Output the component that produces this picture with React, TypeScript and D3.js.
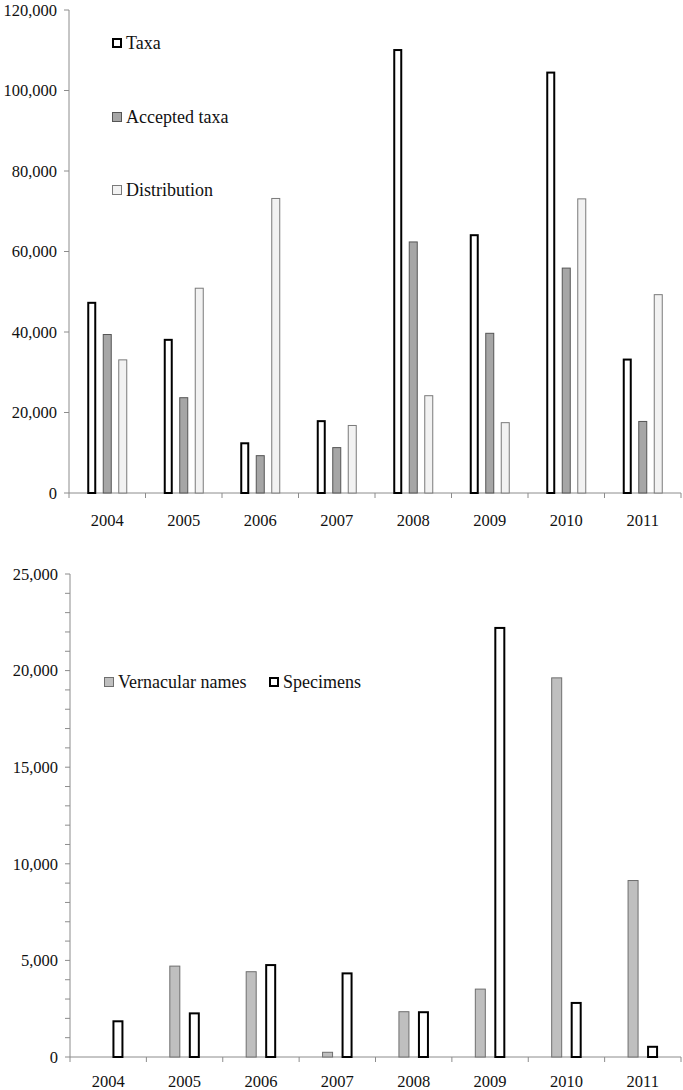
import React from "react";
import * as d3 from "d3";

const years = ["2004", "2005", "2006", "2007", "2008", "2009", "2010", "2011"];
const taxa = [47500, 38300, 12600, 18100, 110300, 64300, 104700, 33400];
const acceptedTaxa = [39500, 23800, 9400, 11400, 62500, 39800, 56000, 17900];
const distribution = [33200, 51000, 73300, 16900, 24300, 17600, 73200, 49400];
const vernacularNames = [0, 4730, 4440, 270, 2370, 3540, 19650, 9160];
const specimens = [1900, 2310, 4810, 4380, 2370, 22260, 2850, 580];
const topTicks = [0, 20000, 40000, 60000, 80000, 100000, 120000];
const bottomTicks = [0, 5000, 10000, 15000, 20000, 25000];

const FONT = "Liberation Serif, Tinos, Times New Roman, DejaVu Serif, serif";
const fmt = d3.format(",");

type Series = { name: string; values: number[]; fill: string; stroke: string; sw: number };

function Panel(props: {
  top: number; bottom: number; axisX: number; right: number; max: number;
  ticks: number[]; minorStep: number | null; series: Series[]; barW: number; step: number;
  legend: { x: number; y: number; name: string; fill: string; stroke: string; sw: number }[];
  yearY: number;
}) {
  const { top, bottom, axisX, right, max, ticks, minorStep, series, barW, step, legend, yearY } = props;
  const y = d3.scaleLinear().domain([0, max]).range([bottom, top]);
  const x = d3.scaleBand().domain(years).range([axisX, right]).paddingInner(0).paddingOuter(0);
  const minor = minorStep ? d3.range(0, max + 1, minorStep) : ticks;
  const n = series.length;
  const axisColor = "#8c8c8c";
  const tstyle = { fontFamily: FONT };
  return (
    <g>
      <line x1={axisX} x2={axisX} y1={top} y2={bottom} stroke={axisColor} strokeWidth={1} />
      {minor.map((t) => (
        <line key={"m" + t} x1={axisX - 5} x2={axisX} y1={y(t)} y2={y(t)} stroke={axisColor} strokeWidth={1} />
      ))}
      {ticks.map((t) => (
        <text key={"t" + t} x={axisX - 12} y={y(t)} dy="0.35em" textAnchor="end" style={tstyle} fontSize={16.5} fill="#111">
          {fmt(t)}
        </text>
      ))}
      <line x1={axisX} x2={right} y1={bottom} y2={bottom} stroke={axisColor} strokeWidth={1} />
      {years.map((yr, i) => (
        <line key={"xt" + yr} x1={axisX + i * x.bandwidth()} x2={axisX + i * x.bandwidth()} y1={bottom} y2={bottom + 5} stroke={axisColor} />
      ))}
      <line x1={right} x2={right} y1={bottom} y2={bottom + 5} stroke={axisColor} />
      {years.map((yr) => (
        <text key={"xl" + yr} x={(x(yr) as number) + x.bandwidth() / 2} y={yearY} dy="0.35em" textAnchor="middle" style={tstyle} fontSize={16.5} fill="#111">
          {yr}
        </text>
      ))}
      {series.map((s, si) =>
        s.values.map((v, i) => {
          if (v <= 0) return null;
          const cx = (x(years[i]) as number) + x.bandwidth() / 2 + (si - (n - 1) / 2) * step;
          const h = bottom - y(v);
          return (
            <rect key={s.name + i} x={cx - barW / 2 + s.sw / 2} y={y(v) + s.sw / 2} width={barW - s.sw} height={Math.max(0, h - s.sw / 2)}
              fill={s.fill} stroke={s.stroke} strokeWidth={s.sw} />
          );
        })
      )}
      {legend.map((l) => (
        <g key={"lg" + l.name}>
          <rect x={l.x + l.sw / 2} y={l.y - 5 + l.sw / 2} width={10 - l.sw} height={10 - l.sw} fill={l.fill} stroke={l.stroke} strokeWidth={l.sw} />
          <text x={l.x + 14} y={l.y} dy="0.35em" style={tstyle} fontSize={18} fill="#111">{l.name}</text>
        </g>
      ))}
    </g>
  );
}

export default function App() {
  const topSeries: Series[] = [
    { name: "Taxa", values: taxa, fill: "#ffffff", stroke: "#000000", sw: 2 },
    { name: "Accepted taxa", values: acceptedTaxa, fill: "#a6a6a6", stroke: "#555555", sw: 1 },
    { name: "Distribution", values: distribution, fill: "#f2f2f2", stroke: "#7a7a7a", sw: 1 },
  ];
  const bottomSeries: Series[] = [
    { name: "Vernacular names", values: vernacularNames, fill: "#bfbfbf", stroke: "#6e6e6e", sw: 1 },
    { name: "Specimens", values: specimens, fill: "#ffffff", stroke: "#000000", sw: 2 },
  ];
  return (
    <svg width={683} height={1090} style={{ position: "absolute", left: 0, top: 0, background: "#fff" }}>
      <rect x={0} y={0} width={683} height={1090} fill="#fff" />
      <Panel top={10} bottom={493} axisX={69} right={681} max={120000} ticks={topTicks} minorStep={null}
        series={topSeries} barW={9} step={15.5} yearY={520}
        legend={[
          { x: 112, y: 43, name: "Taxa", fill: "#fff", stroke: "#000", sw: 2 },
          { x: 112, y: 117, name: "Accepted taxa", fill: "#a6a6a6", stroke: "#555", sw: 1 },
          { x: 112, y: 190, name: "Distribution", fill: "#f2f2f2", stroke: "#7a7a7a", sw: 1 },
        ]} />
      <Panel top={574} bottom={1057} axisX={70} right={681} max={25000} ticks={bottomTicks} minorStep={1000}
        series={bottomSeries} barW={11} step={19.5} yearY={1081}
        legend={[
          { x: 104, y: 682, name: "Vernacular names", fill: "#bfbfbf", stroke: "#6e6e6e", sw: 1 },
          { x: 269, y: 682, name: "Specimens", fill: "#fff", stroke: "#000", sw: 2 },
        ]} />
    </svg>
  );
}
